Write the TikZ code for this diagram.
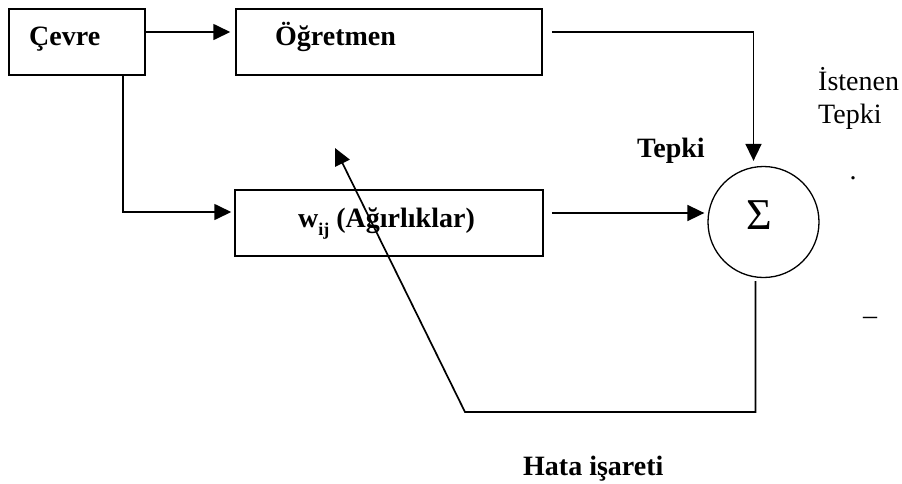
\documentclass[tikz,border=0pt]{standalone}
\usepackage{fontspec}
\setmainfont{Liberation Serif}
\usetikzlibrary{arrows.meta}

\begin{document}
\begin{tikzpicture}[x=1pt,y=-1pt,
    box/.style={draw, line width=1.5pt, inner sep=0pt},
    lbl/.style={inner sep=0pt, font=\fontsize{28}{33}\selectfont},
    conn/.style={line width=1.7pt},
    arr/.style={conn, -{Triangle[length=17pt,width=16pt]}}]
  \useasboundingbox (0,0) rectangle (902,483);

  % blocks
  \node[box, minimum width=136pt, minimum height=66pt] (cevre) at (77,42) {};
  \node[box, minimum width=306pt, minimum height=66pt] (ogretmen) at (389,42) {};
  \node[box, minimum width=308pt, minimum height=66pt] (agirlik) at (389,223) {};
  \node[draw, circle, line width=1.3pt, minimum size=111pt, inner sep=0pt] (sum) at (763.5,222) {};

  % block texts
  \node[lbl, anchor=base west] (cevretxt) at (29,45) {\bfseries Çevre};
  \node[lbl, anchor=base west] (ogrtxt) at (275,45) {\bfseries Öğretmen};
  \node[lbl, anchor=base west] (wtxt) at (298,227)
    {\bfseries w\raisebox{-8pt}{\fontsize{18}{18}\selectfont ij} (Ağırlıklar)};
  \node[lbl, anchor=base, font=\fontsize{44}{44}\selectfont] (sigma) at (759,229) {Σ};

  % signal labels
  \node[lbl, anchor=base west] (istenen) at (818,90) {İstenen};
  \node[lbl, anchor=base west] (istepki) at (818,123) {Tepki};
  \node[lbl, anchor=base west] (tepki) at (637,157) {\bfseries Tepki};
  \node[lbl, anchor=base] (arti) at (853,179) {.};
  \node[lbl, anchor=base] (eksi) at (870,324) {–};
  \node[lbl, anchor=base west] (hata) at (523,475) {\bfseries Hata işareti};

  % feedback path corners
  \coordinate (fbcorner) at (465,412);
  \coordinate (fbtip) at (335,148);

  % connectors
  \draw[arr] ([yshift=10pt]cevre.east) -- ([xshift=-5pt,yshift=10pt]ogretmen.west);
  \draw[arr] ([xshift=9pt,yshift=10pt]ogretmen.east) -| ([xshift=-10pt,yshift=5pt]sum.north);
  \draw[arr] ([xshift=46pt]cevre.south) |- ([xshift=-3pt,yshift=11pt]agirlik.west);
  \draw[arr] ([xshift=8pt,yshift=10pt]agirlik.east) -- ([xshift=-3pt,yshift=9pt]sum.west);
  \draw[arr] ([xshift=-8pt,yshift=-3pt]sum.south) |- (fbcorner) -- (fbtip);
\end{tikzpicture}
\end{document}
